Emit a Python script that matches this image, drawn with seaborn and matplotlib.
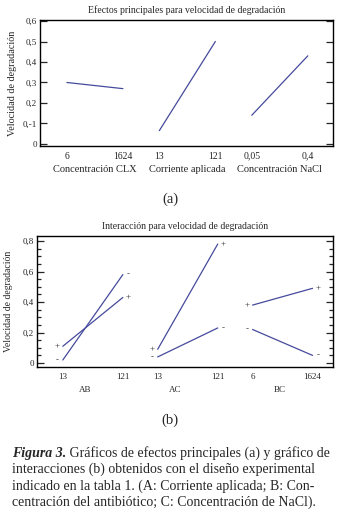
import numpy as np
import pandas as pd
import matplotlib
matplotlib.use('Agg')
import matplotlib.pyplot as plt
import seaborn as sns
from matplotlib.ticker import MultipleLocator

# Efectos principales (a)
factores = ['Concentración CLX', 'Corriente aplicada', 'Concentración NaCl']
niveles_a = [['6', '1624'], ['13', '121'], ['0,05', '0,4']]
efecto_bajo = [0.300, 0.065, 0.140]
efecto_alto = [0.270, 0.500, 0.430]
yticks_a = [0, 0.1, 0.2, 0.3, 0.4, 0.5, 0.6]
ylabels_a = ['0', '0,-1', '0,2', '0,3', '0,4', '0,5', '0,6']

# Interacciones (b)
interacciones = ['AB', 'AC', 'BC']
niveles_b = [['13', '121'], ['13', '121'], ['6', '1624']]
mas_bajo = [0.11, 0.09, 0.38]
mas_alto = [0.43, 0.78, 0.49]
menos_bajo = [0.02, 0.04, 0.22]
menos_alto = [0.58, 0.23, 0.05]
yticks_b = [0, 0.2, 0.4, 0.6, 0.8]
ylabels_b = ['0', '0,2', '0,4', '0,6', '0,8']

sns.set_style('ticks')
plt.rcParams['font.family'] = ['Liberation Serif', 'DejaVu Serif']

color = '#454a9c'
W, H = 340, 514
fig = plt.figure(figsize=(W / 100, H / 100), dpi=100)


def px_axes(x0, y0, x1, y1):
    return fig.add_axes([x0 / W, 1 - y1 / H, (x1 - x0) / W, (y1 - y0) / H])


def style_axes(ax, xpad):
    for s in ax.spines.values():
        s.set_linewidth(1.0)
        s.set_color('black')
    ax.tick_params(axis='y', which='both', direction='in', left=True, right=True,
                   labelsize=6.5, pad=2, width=0.9)
    ax.tick_params(axis='y', which='major', length=5)
    ax.tick_params(axis='y', which='minor', length=3)
    ax.tick_params(axis='x', bottom=False, top=False, length=0, labelsize=7, pad=xpad)
    ax.grid(False)


# ---- (a) efectos principales ----
ax1 = px_axes(40, 20, 333, 146)
gap_a = 1.65
pos_a, lab_a = [], []
for i, f in enumerate(factores):
    x = [i * gap_a, i * gap_a + 1]
    df = pd.DataFrame({'x': x, 'y': [efecto_bajo[i], efecto_alto[i]]})
    sns.lineplot(data=df, x='x', y='y', color=color, lw=0.9, ax=ax1)
    pos_a += x
    lab_a += niveles_a[i]
ax1.set_xlim(-0.48, 4.75)
ax1.set_ylim(-0.01, 0.605)
ax1.set_xticks(pos_a)
ax1.set_xticklabels(lab_a)
ax1.set_yticks(yticks_a)
ax1.set_yticklabels(ylabels_a)
ax1.set_xlabel('')
ax1.set_ylabel('Velocidad de degradación', fontsize=7.3, labelpad=4)
style_axes(ax1, 4)
for i, f in enumerate(factores):
    xf = ax1.transData.transform((i * gap_a + 0.5, 0))[0] / W
    fig.text(xf, 1 - 170 / H, f, ha='center', va='center', fontsize=7.5)
ax1.set_title('Efectos principales para velocidad de degradación', fontsize=7, pad=5)
fig.text(170 / W, 1 - 199 / H, '(a)', ha='center', va='center', fontsize=10.5)

# ---- (b) interacciones ----
ax2 = px_axes(37, 236, 333, 367)
gap_b = 1.58
pos_b, lab_b = [], []
for i, g in enumerate(interacciones):
    x = [i * gap_b, i * gap_b + 1]
    for bajo, alto, sig in [(mas_bajo, mas_alto, '+'), (menos_bajo, menos_alto, '-')]:
        df = pd.DataFrame({'x': x, 'y': [bajo[i], alto[i]]})
        sns.lineplot(data=df, x='x', y='y', color=color, lw=0.9, ax=ax2)
        ax2.annotate(sig, (x[0], bajo[i]), xytext=(-4, 0), textcoords='offset points',
                     ha='center', va='center', fontsize=6.5, color='#333333')
        ax2.annotate(sig, (x[1], alto[i]), xytext=(4, 0), textcoords='offset points',
                     ha='center', va='center', fontsize=6.5, color='#333333')
    pos_b += x
    lab_b += niveles_b[i]
ax2.set_xlim(-0.43, 4.5)
ax2.set_ylim(-0.026, 0.833)
ax2.set_xticks(pos_b)
ax2.set_xticklabels(lab_b)
ax2.set_yticks(yticks_b)
ax2.set_yticklabels(ylabels_b)
ax2.yaxis.set_minor_locator(MultipleLocator(0.05))
ax2.set_xlabel('')
ax2.set_ylabel('Velocidad de degradación', fontsize=7, labelpad=7)
style_axes(ax2, 4.5)
ax2.tick_params(axis='x', labelsize=6.5)
group_x = [85, 175, 280]
for gx, g in zip(group_x, interacciones):
    fig.text(gx / W, 1 - 390 / H, g, ha='center', va='center', fontsize=6.5)
ax2.set_title('Interacción para velocidad de degradación', fontsize=7, pad=5)
fig.text(170 / W, 1 - 420 / H, '(b)', ha='center', va='center', fontsize=10.5)

# ---- pie de figura ----
caption = [
    ' Gráficos de efectos principales (a) y gráfico de',
    'interacciones (b) obtenidos con el diseño experimental',
    'indicado en la tabla 1. (A: Corriente aplicada; B: Con-',
    'centración del antibiótico; C: Concentración de NaCl).',
]
cap_size = 10
for k, line in enumerate(caption):
    y = 1 - (453 + 16.5 * k) / H
    if k == 0:
        head = fig.text(12 / W, y, 'Figura 3.', ha='left', va='center', fontsize=cap_size,
                        fontweight='bold', fontstyle='italic')
        fig.add_artist(plt.Annotation(line, xy=(1, 0.5), xycoords=head, ha='left',
                                      va='center', fontsize=cap_size))
    else:
        fig.text(12 / W, y, line, ha='left', va='center', fontsize=cap_size)

fig.savefig('out.png', dpi=100)
